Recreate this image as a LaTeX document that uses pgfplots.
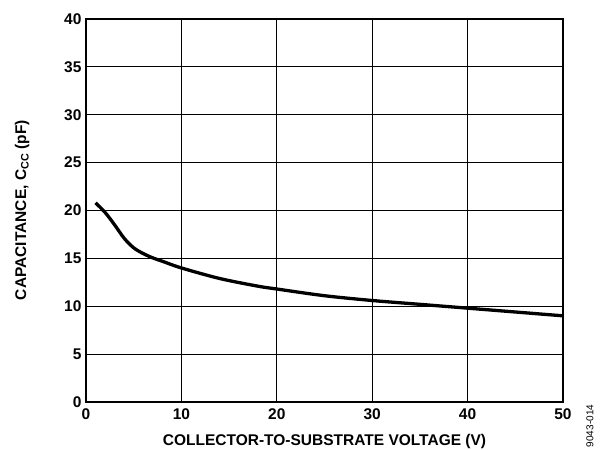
\documentclass[border=0pt]{standalone}
\usepackage{pgfplots}
\pgfplotsset{compat=1.18}
\usepackage{fontspec}
\setmainfont{Liberation Sans}
\begin{document}
\begin{tikzpicture}
\begin{axis}[
    at={(0,0)}, anchor=south west,
    scale only axis,
    width=477pt, height=383pt,
    xmin=0, xmax=50,
    ymin=0, ymax=40,
    xtick={0,10,...,50},
    ytick={0,5,...,40},
    grid=major,
    grid style={black, line width=1.1pt},
    axis line style={black, line width=1.6pt},
    major tick length=0pt,
    tick label style={font=\fontsize{15.5}{17}\selectfont\bfseries},
    /pgf/number format/assume math mode=true,
    xticklabel style={yshift=-3pt},
    yticklabel style={xshift=-1pt},
    xlabel={COLLECTOR-TO-SUBSTRATE VOLTAGE (V)},
    ylabel={CAPACITANCE, C\textsubscript{CC} (pF)},
    label style={font=\fontsize{15.5}{17}\selectfont\bfseries},
    xlabel style={at={(axis description cs:0.5,0)}, anchor=center, yshift=-39pt},
    every axis y label/.append style={at={(-64pt,192pt)}, anchor=center},
    clip=false,
]
\addplot[black, line width=3.3pt, smooth] coordinates {
(1,20.8)(2,19.8)(3,18.5)(4,17.1)(5,16.1)(6,15.5)(7,15.05)(8,14.7)(10,14.0)
(14,12.9)(18,12.1)(20,11.8)(25,11.1)(30,10.6)(35,10.2)(40,9.8)(45,9.4)(50,9.0)};
\end{axis}
\node[rotate=90, font=\fontsize{10}{11}\selectfont, anchor=center] at (504pt,-24pt) {9043-014};
\pgfresetboundingbox
\useasboundingbox (-86pt,-48pt) rectangle (525pt,402pt);
\end{tikzpicture}
\end{document}
